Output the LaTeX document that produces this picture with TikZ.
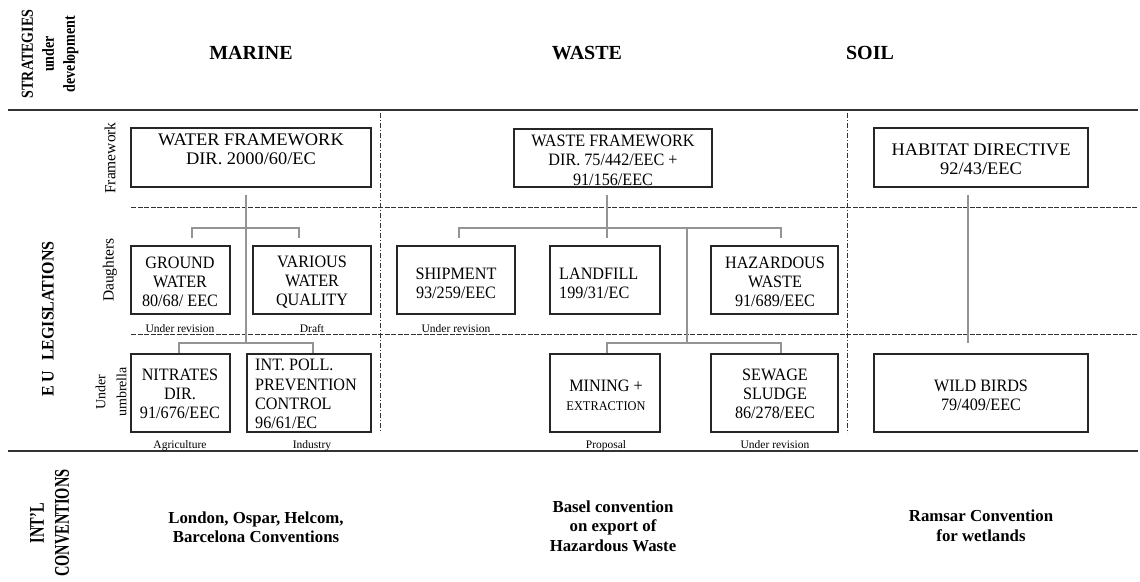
\documentclass[tikz,border=0pt]{standalone}
\usepackage{fontspec}
\setmainfont{Liberation Serif}
\newfontfamily\boxfont[FakeStretch=0.93]{Liberation Serif}
\newfontfamily\bigboxfont[FakeStretch=1.04]{Liberation Serif}
\usetikzlibrary{calc}
\newcommand{\vstr}[2]{\scalebox{1}[#1]{#2}}
\begin{document}
\begin{tikzpicture}[x=1pt,y=-1pt,
  box/.style={draw=black!85, line width=1.1pt, inner sep=0pt, rectangle},
  btxt/.style={inner sep=0pt, align=center, font=\boxfont\fontsize{17.4}{19}\selectfont},
  bigtxt/.style={inner sep=0pt, align=center, font=\bigboxfont\fontsize{17.7}{19}\selectfont},
  ltxt/.style={inner sep=0pt, align=left, anchor=west, font=\boxfont\fontsize{17.4}{19.3}\selectfont},
  small/.style={inner sep=0pt, anchor=base, font=\fontsize{11.5}{12}\selectfont},
  head/.style={inner sep=0pt, font=\bfseries\fontsize{20}{22}\selectfont},
  rowlab/.style={inner sep=0pt, rotate=90, align=center, font=\fontsize{15.5}{20}\selectfont},
  conv/.style={inner sep=0pt, align=center, font=\bfseries\fontsize{16.8}{19.5}\selectfont},
  conn/.style={draw=black!42, line width=1.3pt},
  rule/.style={draw=black!80, line width=1.4pt},
  rowsep/.style={draw=black!80, line width=0.9pt, dash pattern=on 5pt off 1.5pt},
  colsep/.style={draw=black!80, line width=0.9pt, dash pattern=on 5pt off 2pt on 1pt off 2pt}
]
\useasboundingbox (0,0) rectangle (1140,581);

% rules and separators
\draw[rule] (8,110) -- (1138,110);
\draw[rule] (8,451) -- (1138,451);
\draw[rowsep] (131,207) -- (1138,207);
\draw[rowsep] (131,334) -- (1138,334);
\draw[colsep] (380,113) -- (380,433);
\draw[colsep] (847,113) -- (847,433);

% headers
\node[inner sep=0pt, rotate=90, align=center, font=\bfseries\fontsize{14}{21}\selectfont] (strat) at (50,54)
  {\vstr{1.2}{STRATEGIES}\\\vstr{1.2}{under}\\\vstr{1.2}{development}};
\node[head] (marine) at (251,53) {MARINE};
\node[head] (waste) at (587,53) {WASTE};
\node[head] (soil) at (870,53) {SOIL};

% row labels
\node[inner sep=0pt, rotate=90, font=\bfseries\fontsize{16}{18}\selectfont] (eu) at (48,319)
  {\vstr{1.1}{E U\hspace{0.6em}LEGISLATIONS}};
\node[rowlab] (fw) at (110,158) {Framework};
\node[rowlab] (dau) at (110,270) {Daughters};
\node[rowlab, font=\fontsize{14}{21}\selectfont] (umb) at (111,392) {Under\\umbrella};
\node[inner sep=0pt, rotate=90, align=center, font=\bfseries\fontsize{14.4}{25}\selectfont] (intl) at (49.5,523)
  {\vstr{1.45}{INT'L}\\\vstr{1.45}{CONVENTIONS}};

% boxes
\node[box, minimum width=240pt, minimum height=59pt] (wfd) at (251,157.5) {};
\node[box, minimum width=99pt,  minimum height=68pt] (gw)  at (180.5,280) {};
\node[box, minimum width=118pt, minimum height=68pt] (vwq) at (312,280) {};
\node[box, minimum width=99pt,  minimum height=78pt] (nit) at (180.5,393) {};
\node[box, minimum width=124pt, minimum height=78pt] (ippc) at (309,393) {};
\node[box, minimum width=198pt, minimum height=58pt] (wfw) at (613,158) {};
\node[box, minimum width=118pt, minimum height=68pt] (ship) at (456,280) {};
\node[box, minimum width=110pt, minimum height=68pt] (land) at (605,280) {};
\node[box, minimum width=127pt, minimum height=68pt] (haz) at (774.5,280) {};
\node[box, minimum width=110pt, minimum height=78pt] (min) at (605,393) {};
\node[box, minimum width=127pt, minimum height=78pt] (sew) at (774.5,393) {};
\node[box, minimum width=214pt, minimum height=59pt] (hab) at (981,157.5) {};
\node[box, minimum width=214pt, minimum height=78pt] (wb) at (981,393) {};

% box texts
\node[bigtxt] (wfd-t) at (251,149) {WATER FRAMEWORK\\DIR. 2000/60/EC};
\node[btxt] (gw-t) at (180,282) {GROUND\\WATER\\80/68/ EEC};
\node[btxt] (vwq-t) at (312,282) {VARIOUS\\WATER\\QUALITY};
\node[btxt] (nit-t) at (180,394) {NITRATES\\DIR.\\91/676/EEC};
\node[ltxt] (ippc-t) at (255,394) {INT. POLL.\\PREVENTION\\CONTROL\\96/61/EC};
\node[btxt, font=\boxfont\fontsize{17.4}{19.5}\selectfont] (wfw-t) at (613,160) {WASTE FRAMEWORK\\DIR. 75/442/EEC +\\91/156/EEC};
\node[btxt] (ship-t) at (456,283) {SHIPMENT\\93/259/EEC};
\node[ltxt] (land-t) at (559,283) {LANDFILL\\199/31/EC};
\node[btxt] (haz-t) at (775,282) {HAZARDOUS\\WASTE\\91/689/EEC};
\node[btxt] (min-t) at (606,395) {MINING +\\{\fontsize{13.3}{14}\selectfont EXTRACTION}};
\node[btxt] (sew-t) at (775,394) {SEWAGE\\SLUDGE\\86/278/EEC};
\node[bigtxt] (hab-t) at (981,159) {HABITAT DIRECTIVE\\92/43/EEC};
\node[btxt] (wb-t) at (981,395) {WILD BIRDS\\79/409/EEC};

% status labels
\node[small] (s1) at (180,332) {Under revision};
\node[small] (s2) at (312,332) {Draft};
\node[small] (s3) at (456,332) {Under revision};
\node[small] (s4) at (180,448) {Agriculture};
\node[small] (s5) at (312,448) {Industry};
\node[small] (s6) at (606,448) {Proposal};
\node[small] (s7) at (775,448) {Under revision};

% conventions
\node[conv] (c1) at (256,527) {London, Ospar, Helcom,\\Barcelona Conventions};
\node[conv] (c2) at (613,526) {Basel convention\\on export of\\Hazardous Waste};
\node[conv] (c3) at (981,525.5) {Ramsar Convention\\for wetlands};

% connectors: marine
\coordinate (m-d) at (246,228);
\coordinate (m-u) at (246,343);
\draw[conn] ([xshift=-5pt,yshift=-7pt]wfd.south) -- (m-u);
\draw[conn] ([xshift=11.5pt,yshift=7pt]gw.north) |- (m-d) -| ([xshift=-13pt,yshift=7pt]vwq.north);
\draw[conn] ([xshift=-1.5pt]nit.north) |- (m-u) -| ([xshift=4pt]ippc.north);

% connectors: waste
\coordinate (w-d) at (687,228);
\coordinate (w-u) at (687,343);
\draw[conn] ([xshift=-6pt,yshift=-7pt]wfw.south) -- ([xshift=2pt,yshift=7pt]land.north);
\draw[conn] ([xshift=3pt,yshift=7pt]ship.north) |- (w-d) -| ([xshift=6.5pt,yshift=7pt]haz.north);
\draw[conn] (w-d) -- (w-u);
\draw[conn] ([xshift=2pt]min.north) |- (w-u) -| ([xshift=6.5pt]sew.north);

% connectors: soil
\draw[conn] ([xshift=-13pt,yshift=-7pt]hab.south) -- ([xshift=-13pt,yshift=10pt]wb.north);
\end{tikzpicture}
\end{document}
